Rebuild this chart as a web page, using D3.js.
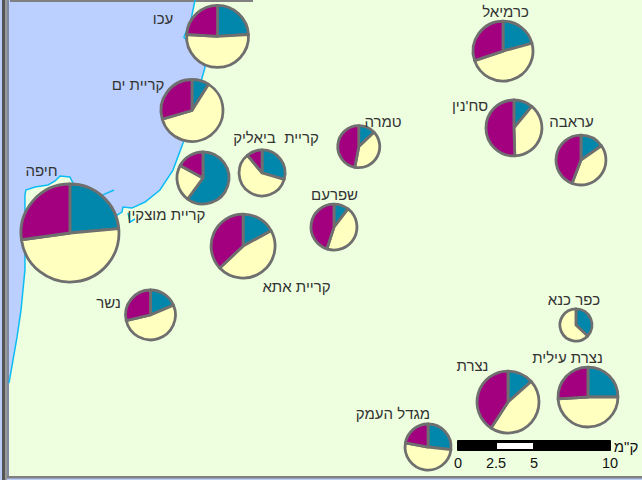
<!DOCTYPE html>
<html lang="he"><head><meta charset="utf-8">
<script src="https://cdn.jsdelivr.net/npm/d3@7"></script>
<style>html,body{margin:0;padding:0;background:#fff}svg{display:block}text{font-family:"Liberation Sans",Arial,sans-serif;font-size:15px;fill:#333}</style>
</head><body><svg id="c" width="642" height="480"></svg>
<script>
// Towns, in table order
const towns = ["עכו","קריית ים","קריית מוצקין","קריית  ביאליק","חיפה","נשר","קריית אתא","טמרה","שפרעם","כרמיאל","סח'נין","עראבה","כפר כנא","נצרת עילית","נצרת","מגדל העמק"];
// Location in km east of the scale bar's origin / km north of the map's bottom edge
const eastKm  = [-15.82,-17.5,-16.78,-12.89,-25.53,-20.23,-14.14,-6.53,-8.16,2.96,3.68,8.09,7.76,8.55,3.29,-1.97];
const northKm = [29.18,24.31,19.87,20.2,16.25,10.86,15.39,21.93,16.64,28.22,23.16,21.05,10.2,5.46,5.13,2.17];
// Pie size (population-like magnitude, thousands) and three shares in %
const sizes  = [108,108,76,59.5,270,70,115,49.6,59.5,101,88,70,29,101,108,59.5];
const blue   = [24,9,60,29.5,23.6,18.6,17,13,10.5,20.8,11,15.3,37,25,13.5,26.8];
const yellow = [52,61.5,23,59.5,49.2,52.8,46,40,44.5,49,38.5,40.5,63,49,45.7,51];
const purple = [24,29.5,17,11,27.2,28.6,37,47,45,30.2,50.5,44.2,0,26,40.8,22.2];
// Coastline (km east, km north), north to south
const coastE = [-17.3,-17.57,-18.03,-17.24,-16.64,-16.84,-17.5,-18.09,-18.75,-19.61,-20.59,-21.45,-22.04,-22.11,-22.43,-24.21,-25.33,-25.53,-26.18,-26.51,-26.97,-27.83,-28.43,-28.49,-28.49,-28.49,-28.75,-29.01,-29.54];
const coastN = [31.58,30.26,29.14,28.29,27.17,26.45,24.01,22.17,20.39,19.08,18.29,17.89,17.96,17.63,17.43,18.09,19.54,19.93,20,19.67,19.41,19.28,19.08,18.75,16.45,13.82,11.18,9.41,6.38];
const pierE = [-23.55,-22.63], pierN = [18.68,19.08];
const creekE = [-21.71,-21.58,-21.25], creekN = [17.57,16.97,17.17];
// Scale bar
const scaleTicks = [0,2.5,5,10];
const scaleTickLabels = ["0","2.5","5","10"];
const scaleUnit = 'ק"מ';

const x = d3.scaleLinear().domain([0,10]).range([458,610]);
const y = d3.scaleLinear().domain([0,10]).range([480,328]);
const r = d3.scaleSqrt().domain([0,270]).range([0,49]);
const svg = d3.select("#c");

// Frame and land
svg.append("rect").attr("width",642).attr("height",480).attr("fill","#b9cdf8");
svg.append("rect").attr("x",2).attr("width",3).attr("height",480).attr("fill","#555");
svg.append("rect").attr("x",5).attr("width",2).attr("height",480).attr("fill","#999");
svg.append("rect").attr("x",9).attr("y",0).attr("width",633).attr("height",476).attr("fill","#eeffe0");

// Sea
const pts = coastE.map((e,i)=>[x(e),y(coastN[i])]);
const edgeX = x(coastE[coastE.length-1]);
svg.append("path").attr("fill","#bbd0ff")
  .attr("d",d3.line()([...pts,[edgeX,y(coastN[0])]])+"Z");
svg.append("rect").attr("x",10).attr("y",0).attr("width",243).attr("height",2).attr("fill","#808080");
svg.append("rect").attr("x",7).attr("y",476).attr("width",635).attr("height",2.5).attr("fill","#808080");
svg.append("rect").attr("x",7).attr("y",0).attr("width",2).attr("height",476).attr("fill","#7f8aa0");

const shore = d3.line().x(d=>d[0]).y(d=>d[1]);
const coastLine = (a,b)=>a.map((e,i)=>[x(e),y(b[i])]);
[coastLine(coastE,coastN),coastLine(pierE,pierN),coastLine(creekE,creekN)].forEach(p=>
  svg.append("path").attr("d",shore(p)).attr("fill","none").attr("stroke","#0cbcf5").attr("stroke-width",1.5));

// Pies
const pie = d3.pie().sort(null);
const colours = ["#0087ab","#ffffbf","#a30080"];
const arc = d3.arc().innerRadius(0);
towns.forEach((t,i)=>{
  const g = svg.append("g").attr("transform",`translate(${x(eastKm[i])},${y(northKm[i])})`);
  g.selectAll("path").data(pie([blue[i],yellow[i],purple[i]]).filter(d=>d.value>0)).join("path")
    .attr("d",d=>arc.outerRadius(r(sizes[i]))(d))
    .attr("fill",(d)=>colours[d.index]).attr("stroke","#6f6f6f").attr("stroke-width",2.8).attr("stroke-linejoin","round");
});

// Labels
const labelX = [163,138,166.5,276,41.5,108.5,296.5,383,334.5,505.5,470,571.5,574,567.5,472.5,393];
const labelY = [24,90,220,143,176,308,292,127,200,17,111,127,305,363,371,419];
towns.forEach((t,i)=>{
  svg.append("text").attr("x",labelX[i]).attr("y",labelY[i]).attr("text-anchor","middle").attr("direction","rtl").attr("xml:space","preserve").style("white-space","pre").text(t);
});

// Scale bar
svg.append("rect").attr("x",x(0)-1).attr("y",440).attr("width",x(10)-x(0)+2).attr("height",11).attr("rx",1).attr("fill","#000");
svg.append("rect").attr("x",x(2.5)+1).attr("y",443).attr("width",x(5)-x(2.5)-2).attr("height",6).attr("fill","#fff");
scaleTicks.forEach((v,i)=>svg.append("text").attr("x",x(v)).attr("y",468).attr("text-anchor","middle").style("fill","#111").style("font-size","14.5px").text(scaleTickLabels[i]));
svg.append("text").attr("x",626).attr("y",452).attr("text-anchor","middle").attr("direction","rtl").style("fill","#111").text(scaleUnit);
</script></body></html>
